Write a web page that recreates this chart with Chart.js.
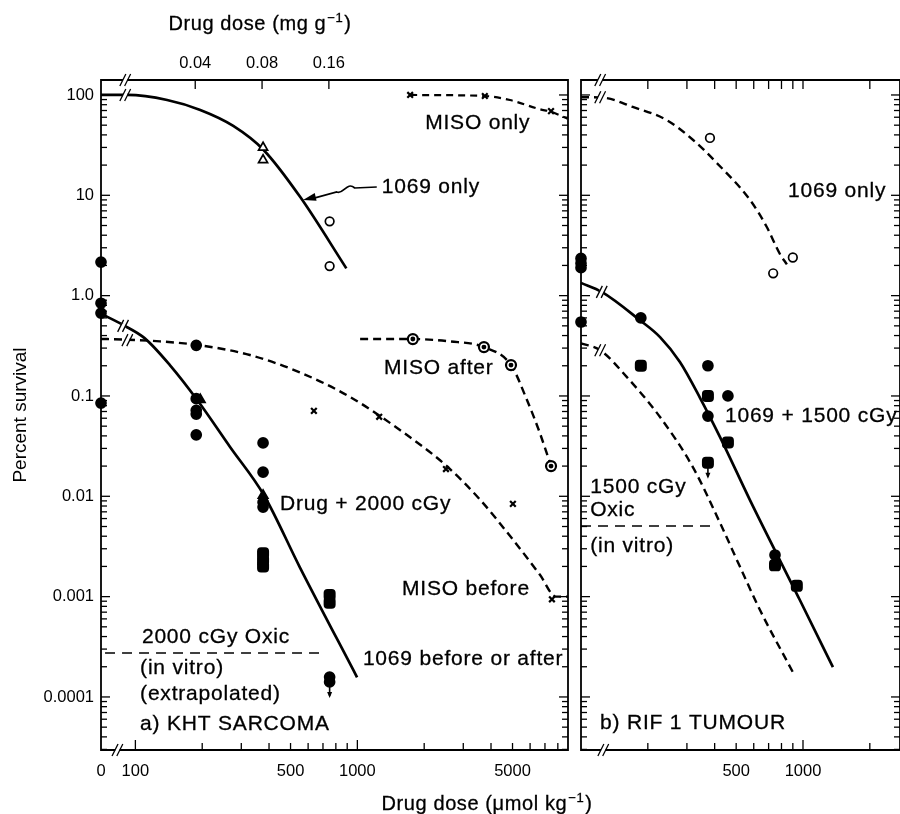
<!DOCTYPE html>
<html>
<head>
<meta charset="utf-8">
<title>Percent survival vs drug dose</title>
<script src="https://cdn.jsdelivr.net/npm/chart.js@4.4.1/dist/chart.umd.min.js"></script>
<style>
  html, body { margin: 0; padding: 0; background: #ffffff; }
  #wrap { position: relative; width: 900px; height: 814px; overflow: hidden; background: #fff; }
  #wrap canvas { position: absolute; left: 0; top: 0; }
</style>
</head>
<body>
<div id="wrap">
  <canvas id="panelA" width="900" height="814"></canvas>
  <canvas id="panelB" width="900" height="814"></canvas>
</div>
<script>
const INK = '#000000';
const FAMILY = '"Liberation Sans", Arial, Helvetica, sans-serif';
const LABEL_FONT = '21px ' + FAMILY;
const TITLE_FONT = '20px ' + FAMILY;
const SUP_FONT = '13px ' + FAMILY;
const TICK_FONT = { family: FAMILY, size: 16.5 };

// ---------- axis ranges ----------
const Y_MIN = 2.96e-5, Y_MAX = 141;          // percent survival
const XA_MIN = 70, XA_MAX = 8890;            // µmol/kg, panel a (0 dose drawn at XA_MIN)
const XB_MIN = 100, XB_MAX = 2735;           // µmol/kg, panel b (0 dose drawn at XB_MIN)
const MG_PER_UMOL = 2.15e-4;                 // mg g^-1 per µmol kg^-1 (top axis)

// ---------- tick labels ----------
const yTickValues = [100, 10, 1, 0.1, 0.01, 0.001, 0.0001];
const yTickLabels = ['100', '10', '1.0', '0.1', '0.01', '0.001', '0.0001'];
const xTickValuesA = [70, 100, 500, 1000, 5000];
const xTickLabelsA = ['0', '100', '500', '1000', '5000'];
const topTickValuesA = [0.04, 0.08, 0.16];
const topTickLabelsA = ['0.04', '0.08', '0.16'];
const xTickValuesB = [500, 1000];
const xTickLabelsB = ['500', '1000'];
const xMinorA = [200, 300, 400, 500, 600, 700, 800, 900, 2000, 3000, 4000, 5000, 6000, 7000, 8000];
const xMajorA = [100, 1000];
const xMinorB = [200, 300, 400, 500, 600, 700, 800, 900, 2000];
const xMajorB = [1000];

// ---------- panel a : KHT sarcoma ----------
const zeroDotsA = [2.16, 0.84, 0.67, 0.085];

const only1069CurveAX = [70, 92, 139, 196, 276, 378, 553, 892];
const only1069CurveAY = [100, 100, 89, 70.8, 49.1, 28.3, 9.6, 1.87];
const only1069TriAX = [376, 376];
const only1069TriAY = [30, 22.5];
const only1069CircAX = [750, 750];
const only1069CircAY = [5.5, 1.97];

const misoOnlyLineX = [1729, 3752, 4870, 6645, 7455, 8850];
const misoOnlyLineY = [100, 97.7, 89, 72, 68, 58];
const misoOnlyPtX = [1729, 3752, 7455];
const misoOnlyPtY = [100, 97.7, 69];

const drug2000CurveX = [70, 88, 110, 143, 190, 267, 379, 550, 997];
const drug2000CurveY = [0.66, 0.51, 0.377, 0.203, 0.091, 0.031, 0.0103, 0.00197, 0.000157];
const drug2000DotX = [188, 188, 188, 188, 188, 376, 376, 376, 376, 750, 750];
const drug2000DotY = [0.32, 0.094, 0.072, 0.066, 0.041, 0.034, 0.0174, 0.0087, 0.0078, 0.000158, 0.000141];
const drug2000TriX = [196, 376];
const drug2000TriY = [0.092, 0.0102];
const drug2000SqX = [376, 376, 376, 750, 750];
const drug2000SqY = [0.0027, 0.0023, 0.0020, 0.00104, 0.00087];

const misoBeforeCurveX = [70, 75, 129, 195, 328, 550, 925, 1555, 2507, 3563, 5020, 6645, 7850, 8880];
const misoBeforeCurveY = [0.37, 0.369, 0.35, 0.32, 0.256, 0.172, 0.098, 0.0458, 0.0203, 0.0093, 0.0037, 0.00165, 0.001, 0.001];
const misoBeforePtX = [637, 1254, 2507, 5020, 7525];
const misoBeforePtY = [0.071, 0.062, 0.0187, 0.0084, 0.00094];

const misoAfterLineX = [1029, 1778, 2605, 3717, 4922, 5810, 6645, 7455];
const misoAfterLineY = [0.369, 0.369, 0.35, 0.307, 0.203, 0.091, 0.0425, 0.020];
const misoAfterPtX = [1778, 3717, 4922, 7455];
const misoAfterPtY = [0.369, 0.307, 0.203, 0.020];

const oxicAX = [73, 700];
const oxicAY = [0.000274, 0.000274];

// ---------- panel b : RIF 1 tumour ----------
const zeroDotsB = [2.35, 2.1, 1.9, 0.546];

const only1069LineBX = [100, 126, 171, 244, 320, 409, 577, 688, 787, 846];
const only1069LineBY = [95, 94, 76, 56, 35.6, 21, 9, 4.8, 2.6, 2.05];
const only1069CircBX = [381, 734, 900];
const only1069CircBY = [37.3, 1.67, 2.4];

const r1500CurveX = [100, 124, 184, 227, 279, 344, 423, 577, 969, 1364];
const r1500CurveY = [1.34, 1.09, 0.57, 0.386, 0.218, 0.0953, 0.0389, 0.00916, 0.00092, 0.000198];
const r1500DotX = [186, 373, 459, 373, 748];
const r1500DotY = [0.60, 0.20, 0.10, 0.063, 0.0026];
const r1500SqX = [186, 373, 459, 373, 748, 938];
const r1500SqY = [0.20, 0.10, 0.0344, 0.0216, 0.00205, 0.00128];

const x1500DashX = [100, 122, 161, 227, 320, 423, 521, 641, 900];
const x1500DashY = [0.335, 0.286, 0.154, 0.0616, 0.0193, 0.00542, 0.00197, 0.00073, 0.000177];

const oxicBX = [100, 410];
const oxicBY = [0.00505, 0.00505];

// ---------- decorations anchored in data space ----------
const breaksAX = [90, 90, 88, 92, 83];
const breaksAY = [Y_MAX, 100, 0.5, 0.36, Y_MIN];
const breaksBX = [122, 122, 124, 122, 126];
const breaksBY = [Y_MAX, 95, 1.09, 0.286, Y_MIN];
const arrowsAX = [750];
const arrowsAY = [0.000141];
const arrowsBX = [373];
const arrowsBY = [0.0216];

const annotTextA = ['MISO only', '1069 only', 'MISO after', 'Drug + 2000 cGy', 'MISO before',
                    '1069 before or after', '2000 cGy Oxic', '(in vitro)', '(extrapolated)', 'a) KHT SARCOMA'];
const annotXA = [2020, 1288, 1319, 448, 1589, 1059, 107, 105, 105, 105];
const annotYA = [52.6, 12.1, 0.19, 0.00836, 0.00119, 0.000238, 0.000394, 0.000194, 0.0001067, 5.36e-5];
const annotTextB = ['1069 only', '1069 + 1500 cGy', '1500 cGy', 'Oxic', '(in vitro)', 'b) RIF 1 TUMOUR'];
const annotXB = [856, 445, 110, 110, 110, 121.8];
const annotYB = [11.0, 0.063, 0.01236, 0.00728, 0.00318, 5.48e-5];
// leader arrow for "1069 only" (panel a): from label to curve
const leaderFromA = { x: 1288, y: 12.1 };
const leaderToA = { x: 569, y: 9.0 };

// ---------- helpers ----------
const P = (xs, ys) => xs.map((x, i) => ({ x: x, y: ys[i] }));
const PZ = (x0, ys) => ys.map(y => ({ x: x0, y: y }));

function markers(data, style, radius, filled, extra) {
  return Object.assign({
    data: data, showLine: false, clip: false,
    pointStyle: style, pointRadius: radius, pointHoverRadius: radius,
    pointBorderColor: INK, pointBackgroundColor: filled ? INK : '#ffffff',
    pointBorderWidth: 1.7, borderColor: INK, backgroundColor: INK
  }, extra || {});
}
function curve(data, dashed, extra) {
  return Object.assign({
    data: data, showLine: true, clip: false, pointRadius: 0, pointHoverRadius: 0,
    borderColor: INK, borderWidth: dashed ? 2.4 : 2.7, borderDash: dashed ? [8, 5] : [],
    cubicInterpolationMode: 'monotone', fill: false
  }, extra || {});
}

function segment(ctx, x1, y1, x2, y2) {
  ctx.beginPath(); ctx.moveTo(x1, y1); ctx.lineTo(x2, y2); ctx.stroke();
}

function drawFrameAndTicks(chart, cfg) {
  const { ctx, chartArea: a } = chart;
  const sx = chart.scales.x, sy = chart.scales.y;
  ctx.save();
  ctx.strokeStyle = INK;
  ctx.lineWidth = 1.8;
  ctx.beginPath();
  ctx.moveTo(a.left, a.bottom); ctx.lineTo(a.left, a.top); ctx.lineTo(a.right, a.top);
  ctx.lineTo(a.right, a.bottom); ctx.closePath();
  ctx.stroke();
  ctx.lineWidth = 1.3;
  for (let e = -5; e <= 2; e++) {
    for (let k = 1; k <= 9; k++) {
      const v = k * Math.pow(10, e);
      if (v < Y_MIN || v > Y_MAX) continue;
      const py = sy.getPixelForValue(v);
      const len = k === 1 ? 9 : 6;
      segment(ctx, a.left, py, a.left + len, py);
      segment(ctx, a.right, py, a.right - len, py);
    }
  }
  cfg.xMinor.forEach(v => {
    const px = sx.getPixelForValue(v);
    segment(ctx, px, a.bottom, px, a.bottom - 7);
  });
  cfg.xMajor.forEach(v => {
    const px = sx.getPixelForValue(v);
    segment(ctx, px, a.bottom, px, a.bottom - 10);
  });
  const topScale = cfg.topScaleId ? chart.scales[cfg.topScaleId] : sx;
  cfg.topTicks.forEach(v => {
    const px = topScale.getPixelForValue(v);
    segment(ctx, px, a.top, px, a.top + 9);
  });
  ctx.restore();
}

function drawBreaks(chart, xs, ys) {
  const { ctx } = chart;
  const sx = chart.scales.x, sy = chart.scales.y;
  ctx.save();
  xs.forEach((xv, i) => {
    const px = sx.getPixelForValue(xv), py = sy.getPixelForValue(ys[i]);
    ctx.fillStyle = '#ffffff';
    ctx.fillRect(px - 2.2, py - 2.5, 4.4, 5);
    ctx.strokeStyle = INK; ctx.lineWidth = 1.3;
    [-2.4, 2.4].forEach(d => segment(ctx, px + d - 3, py + 6, px + d + 3, py - 6));
  });
  ctx.restore();
}

function drawDownArrows(chart, xs, ys) {
  const { ctx } = chart;
  const sx = chart.scales.x, sy = chart.scales.y;
  ctx.save();
  ctx.strokeStyle = INK; ctx.fillStyle = INK; ctx.lineWidth = 1.6;
  xs.forEach((xv, i) => {
    const px = sx.getPixelForValue(xv), py = sy.getPixelForValue(ys[i]);
    segment(ctx, px, py + 4, px, py + 14);
    ctx.beginPath(); ctx.moveTo(px - 2.5, py + 10); ctx.lineTo(px + 2.5, py + 10); ctx.lineTo(px, py + 16);
    ctx.closePath(); ctx.fill();
  });
  ctx.restore();
}

function inkText(ctx, t, x, y) {
  ctx.fillText(t, x, y);
  ctx.strokeText(t, x, y);
}

function drawTexts(chart, texts, xs, ys) {
  const { ctx } = chart;
  const sx = chart.scales.x, sy = chart.scales.y;
  ctx.save();
  ctx.fillStyle = INK; ctx.strokeStyle = INK; ctx.lineWidth = 0.3; ctx.font = LABEL_FONT;
  ctx.textAlign = 'left'; ctx.textBaseline = 'middle';
  try { ctx.letterSpacing = '0.8px'; } catch (e) {}
  texts.forEach((t, i) => inkText(ctx, t, sx.getPixelForValue(xs[i]), sy.getPixelForValue(ys[i])));
  ctx.restore();
}

function drawSupTitle(ctx, cx, baseline, main, sup, tail) {
  ctx.save();
  ctx.fillStyle = INK; ctx.strokeStyle = INK; ctx.lineWidth = 0.3;
  ctx.textBaseline = 'alphabetic'; ctx.textAlign = 'left';
  try { ctx.letterSpacing = '0.6px'; } catch (e) {}
  ctx.font = TITLE_FONT; const w1 = ctx.measureText(main).width; const w3 = ctx.measureText(tail).width;
  ctx.font = SUP_FONT; const w2 = ctx.measureText(sup).width;
  let x = cx - (w1 + w2 + w3 + 2) / 2;
  ctx.font = TITLE_FONT; inkText(ctx, main, x, baseline); x += w1 + 1;
  ctx.font = SUP_FONT; inkText(ctx, sup, x, baseline - 8); x += w2 + 1;
  ctx.font = TITLE_FONT; inkText(ctx, tail, x, baseline);
  ctx.restore();
}

function drawLeader(chart, from, to) {
  const { ctx } = chart;
  const sx = chart.scales.x, sy = chart.scales.y;
  const s = { x: sx.getPixelForValue(from.x) - 5, y: sy.getPixelForValue(from.y) };
  const t = { x: sx.getPixelForValue(to.x), y: sy.getPixelForValue(to.y) };
  ctx.save();
  ctx.strokeStyle = INK; ctx.fillStyle = INK; ctx.lineWidth = 1.7;
  ctx.beginPath();
  ctx.moveTo(s.x, s.y);
  ctx.lineTo(s.x - 22, s.y + 1);
  ctx.bezierCurveTo(s.x - 30, s.y - 6, s.x - 33, s.y + 8, s.x - 40, s.y + 5);
  ctx.lineTo(t.x + 12, t.y - 2);
  ctx.stroke();
  const ang = Math.atan2(t.y - (s.y + 5), t.x - (s.x - 40));
  ctx.beginPath();
  ctx.moveTo(t.x, t.y);
  ctx.lineTo(t.x - 13 * Math.cos(ang) + 4 * Math.sin(ang), t.y - 13 * Math.sin(ang) - 4 * Math.cos(ang));
  ctx.lineTo(t.x - 13 * Math.cos(ang) - 4 * Math.sin(ang), t.y - 13 * Math.sin(ang) + 4 * Math.cos(ang));
  ctx.closePath(); ctx.fill();
  ctx.restore();
}

function noPad(s) { s.paddingLeft = 0; s.paddingRight = 0; s.paddingTop = 0; s.paddingBottom = 0; }

function logAxis(opts) {
  return Object.assign({
    type: 'logarithmic',
    grid: { display: false, drawTicks: false },
    border: { display: false }
  }, opts);
}
function tickSetup(values, labels, padding, display) {
  return {
    afterBuildTicks: s => { s.ticks = values.map(v => ({ value: v })); },
    ticks: {
      display: display !== false, autoSkip: false, maxRotation: 0, minRotation: 0,
      padding: padding, color: INK, font: TICK_FONT,
      callback: v => { const i = values.indexOf(v); return i >= 0 ? labels[i] : ''; }
    }
  };
}

// ---------- panel a ----------
const datasetsA = [
  markers(PZ(XA_MIN, zeroDotsA), 'circle', 5, true),
  markers(P(drug2000DotX, drug2000DotY), 'circle', 5, true),
  markers(P(drug2000TriX, drug2000TriY), 'triangle', 5.5, true),
  markers(P(drug2000SqX, drug2000SqY), 'rectRounded', 6, true),
  markers(P(only1069TriAX, only1069TriAY), 'triangle', 5.2, false),
  markers(P(only1069CircAX, only1069CircAY), 'circle', 4.3, false),
  markers(P(misoOnlyPtX, misoOnlyPtY), 'crossRot', 4, false, { pointBorderWidth: 2.2 }),
  markers(P(misoBeforePtX, misoBeforePtY), 'crossRot', 4, false, { pointBorderWidth: 2.2 }),
  markers(P(misoAfterPtX, misoAfterPtY), 'circle', 1.6, true),
  markers(P(misoAfterPtX, misoAfterPtY), 'circle', 5, false, { pointBorderWidth: 2.2 }),
  curve(P(only1069CurveAX, only1069CurveAY), false),
  curve(P(misoOnlyLineX, misoOnlyLineY), true, { borderDash: [7, 5], borderWidth: 2.2 }),
  curve(P(drug2000CurveX, drug2000CurveY), false),
  curve(P(misoBeforeCurveX, misoBeforeCurveY), true),
  curve(P(misoAfterLineX, misoAfterLineY), true),
  curve(P(oxicAX, oxicAY), true, { borderWidth: 1.5, borderDash: [10, 7], cubicInterpolationMode: 'default' })
];

const decorA = {
  id: 'decorA',
  afterDraw(chart) {
    drawFrameAndTicks(chart, { xMinor: xMinorA, xMajor: xMajorA, topTicks: topTickValuesA, topScaleId: 'x2' });
    drawBreaks(chart, breaksAX, breaksAY);
    drawDownArrows(chart, arrowsAX, arrowsAY);
    drawLeader(chart, leaderFromA, leaderToA);
    drawTexts(chart, annotTextA, annotXA, annotYA);
    drawSupTitle(chart.ctx, 260, 30, 'Drug dose (mg g', '\u22121', ')');
    drawSupTitle(chart.ctx, 487, 810, 'Drug dose (\u03BCmol kg', '\u22121', ')');
  }
};

new Chart(document.getElementById('panelA'), {
  type: 'scatter',
  data: { datasets: datasetsA },
  options: {
    responsive: false, animation: false, devicePixelRatio: 1, events: [],
    layout: { autoPadding: false, padding: { left: 0, right: 332, top: 0, bottom: 0 } },
    plugins: { legend: { display: false }, tooltip: { enabled: false }, title: { display: false } },
    scales: {
      x: logAxis(Object.assign({ position: 'bottom', min: XA_MIN, max: XA_MAX,
            afterFit: s => { s.height = 64; noPad(s); } }, tickSetup(xTickValuesA, xTickLabelsA, 12))),
      x2: logAxis(Object.assign({ position: 'top', min: XA_MIN * MG_PER_UMOL, max: XA_MAX * MG_PER_UMOL,
            afterFit: s => { s.height = 80; noPad(s); } }, tickSetup(topTickValuesA, topTickLabelsA, 7))),
      y: logAxis(Object.assign({ position: 'left', min: Y_MIN, max: Y_MAX,
            afterFit: s => { s.width = 101; noPad(s); },
            title: { display: true, text: 'Percent survival', color: INK,
                     font: { family: FAMILY, size: 19 }, padding: { top: 9, bottom: 0 } } },
            tickSetup(yTickValues, yTickLabels, 7)))
    }
  },
  plugins: [decorA]
});

// ---------- panel b ----------
const datasetsB = [
  markers(PZ(XB_MIN, zeroDotsB), 'circle', 5, true),
  markers(P(r1500DotX, r1500DotY), 'circle', 5, true),
  markers(P(r1500SqX, r1500SqY), 'rectRounded', 6, true),
  markers(P(only1069CircBX, only1069CircBY), 'circle', 4.3, false),
  curve(P(only1069LineBX, only1069LineBY), true),
  curve(P(r1500CurveX, r1500CurveY), false),
  curve(P(x1500DashX, x1500DashY), true),
  curve(P(oxicBX, oxicBY), true, { borderWidth: 1.5, borderDash: [10, 7], cubicInterpolationMode: 'default' })
];

const decorB = {
  id: 'decorB',
  afterDraw(chart) {
    drawFrameAndTicks(chart, { xMinor: xMinorB, xMajor: xMajorB, topTicks: xMinorB.concat(xMajorB) });
    drawBreaks(chart, breaksBX, breaksBY);
    drawDownArrows(chart, arrowsBX, arrowsBY);
    drawTexts(chart, annotTextB, annotXB, annotYB);
  }
};

new Chart(document.getElementById('panelB'), {
  type: 'scatter',
  data: { datasets: datasetsB },
  options: {
    responsive: false, animation: false, devicePixelRatio: 1, events: [],
    layout: { autoPadding: false, padding: { left: 581, right: 0, top: 80, bottom: 0 } },
    plugins: { legend: { display: false }, tooltip: { enabled: false }, title: { display: false } },
    scales: {
      x: logAxis(Object.assign({ position: 'bottom', min: XB_MIN, max: XB_MAX,
            afterFit: s => { s.height = 64; noPad(s); } }, tickSetup(xTickValuesB, xTickLabelsB, 12))),
      y: logAxis({ position: 'left', min: Y_MIN, max: Y_MAX, display: false })
    }
  },
  plugins: [decorB]
});
</script>
</body>
</html>
